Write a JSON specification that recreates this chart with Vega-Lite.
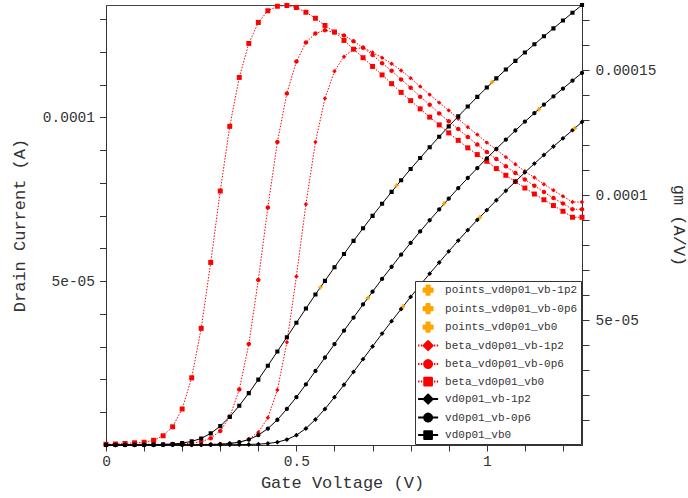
{
"$schema": "https://vega.github.io/schema/vega-lite/v6.json",
"width": 476, "height": 440,
"autosize": {"type": "none"},
"padding": {"left": 106, "top": 5, "right": 106, "bottom": 53},
"background": "white",
"config": {
 "font": "Liberation Mono",
 "view": {"stroke": "#444", "strokeWidth": 1},
 "point": {"strokeJoin": "round"},
 "axis": {"labelFont": "Liberation Mono", "labelFontSize": 14.5, "labelColor": "#333", "titleFont": "Liberation Mono", "titleFontSize": 17, "titleFontWeight": "normal", "titleColor": "#333", "tickColor": "#333", "domainColor": "#333", "grid": false, "labelOverlap": false, "labelFlush": false},
 "legend": {"orient": "bottom-right", "offset": 1, "padding": 3.6, "fillColor": "white", "strokeColor": "#333", "labelFont": "Liberation Mono", "labelFontSize": 11, "labelColor": "#333", "labelOffset": 11.5, "symbolOffset": 4, "rowPadding": 5.5, "symbolSize": 49, "symbolStrokeWidth": 2, "labelLimit": 300}
},
"datasets": {
 "id": [
  {"series":"vd0p01_vb0","vg":0,"value":0},
  {"series":"vd0p01_vb0","vg":0.025,"value":0.001e-5},
  {"series":"vd0p01_vb0","vg":0.05,"value":0.002e-5},
  {"series":"vd0p01_vb0","vg":0.075,"value":0.004e-5},
  {"series":"vd0p01_vb0","vg":0.1,"value":0.007e-5},
  {"series":"vd0p01_vb0","vg":0.125,"value":0.010e-5},
  {"series":"vd0p01_vb0","vg":0.15,"value":0.017e-5},
  {"series":"vd0p01_vb0","vg":0.175,"value":0.031e-5},
  {"series":"vd0p01_vb0","vg":0.2,"value":0.058e-5},
  {"series":"vd0p01_vb0","vg":0.225,"value":0.110e-5},
  {"series":"vd0p01_vb0","vg":0.25,"value":0.200e-5},
  {"series":"vd0p01_vb0","vg":0.275,"value":0.355e-5},
  {"series":"vd0p01_vb0","vg":0.3,"value":0.575e-5},
  {"series":"vd0p01_vb0","vg":0.325,"value":0.860e-5},
  {"series":"vd0p01_vb0","vg":0.35,"value":1.200e-5},
  {"series":"vd0p01_vb0","vg":0.375,"value":1.585e-5},
  {"series":"vd0p01_vb0","vg":0.4,"value":1.995e-5},
  {"series":"vd0p01_vb0","vg":0.425,"value":2.420e-5},
  {"series":"vd0p01_vb0","vg":0.45,"value":2.855e-5},
  {"series":"vd0p01_vb0","vg":0.475,"value":3.290e-5},
  {"series":"vd0p01_vb0","vg":0.5,"value":3.730e-5},
  {"series":"vd0p01_vb0","vg":0.525,"value":4.165e-5},
  {"series":"vd0p01_vb0","vg":0.55,"value":4.595e-5},
  {"series":"vd0p01_vb0","vg":0.575,"value":5.010e-5},
  {"series":"vd0p01_vb0","vg":0.6,"value":5.425e-5},
  {"series":"vd0p01_vb0","vg":0.625,"value":5.830e-5},
  {"series":"vd0p01_vb0","vg":0.65,"value":6.230e-5},
  {"series":"vd0p01_vb0","vg":0.675,"value":6.615e-5},
  {"series":"vd0p01_vb0","vg":0.7,"value":6.995e-5},
  {"series":"vd0p01_vb0","vg":0.725,"value":7.365e-5},
  {"series":"vd0p01_vb0","vg":0.75,"value":7.725e-5},
  {"series":"vd0p01_vb0","vg":0.775,"value":8.080e-5},
  {"series":"vd0p01_vb0","vg":0.8,"value":8.425e-5},
  {"series":"vd0p01_vb0","vg":0.825,"value":8.760e-5},
  {"series":"vd0p01_vb0","vg":0.85,"value":9.090e-5},
  {"series":"vd0p01_vb0","vg":0.875,"value":9.410e-5},
  {"series":"vd0p01_vb0","vg":0.9,"value":9.725e-5},
  {"series":"vd0p01_vb0","vg":0.925,"value":10.030e-5},
  {"series":"vd0p01_vb0","vg":0.95,"value":10.330e-5},
  {"series":"vd0p01_vb0","vg":0.975,"value":10.625e-5},
  {"series":"vd0p01_vb0","vg":1,"value":10.910e-5},
  {"series":"vd0p01_vb0","vg":1.025,"value":11.190e-5},
  {"series":"vd0p01_vb0","vg":1.05,"value":11.460e-5},
  {"series":"vd0p01_vb0","vg":1.075,"value":11.725e-5},
  {"series":"vd0p01_vb0","vg":1.1,"value":11.980e-5},
  {"series":"vd0p01_vb0","vg":1.125,"value":12.230e-5},
  {"series":"vd0p01_vb0","vg":1.15,"value":12.475e-5},
  {"series":"vd0p01_vb0","vg":1.175,"value":12.715e-5},
  {"series":"vd0p01_vb0","vg":1.2,"value":12.955e-5},
  {"series":"vd0p01_vb0","vg":1.225,"value":13.195e-5},
  {"series":"vd0p01_vb0","vg":1.25,"value":13.430e-5},
  {"series":"vd0p01_vb-0p6","vg":0,"value":0},
  {"series":"vd0p01_vb-0p6","vg":0.025,"value":0},
  {"series":"vd0p01_vb-0p6","vg":0.05,"value":0.001e-5},
  {"series":"vd0p01_vb-0p6","vg":0.075,"value":0.001e-5},
  {"series":"vd0p01_vb-0p6","vg":0.1,"value":0.002e-5},
  {"series":"vd0p01_vb-0p6","vg":0.125,"value":0.002e-5},
  {"series":"vd0p01_vb-0p6","vg":0.15,"value":0.003e-5},
  {"series":"vd0p01_vb-0p6","vg":0.175,"value":0.004e-5},
  {"series":"vd0p01_vb-0p6","vg":0.2,"value":0.005e-5},
  {"series":"vd0p01_vb-0p6","vg":0.225,"value":0.007e-5},
  {"series":"vd0p01_vb-0p6","vg":0.25,"value":0.009e-5},
  {"series":"vd0p01_vb-0p6","vg":0.275,"value":0.014e-5},
  {"series":"vd0p01_vb-0p6","vg":0.3,"value":0.024e-5},
  {"series":"vd0p01_vb-0p6","vg":0.325,"value":0.045e-5},
  {"series":"vd0p01_vb-0p6","vg":0.35,"value":0.087e-5},
  {"series":"vd0p01_vb-0p6","vg":0.375,"value":0.165e-5},
  {"series":"vd0p01_vb-0p6","vg":0.4,"value":0.30e-5},
  {"series":"vd0p01_vb-0p6","vg":0.425,"value":0.50e-5},
  {"series":"vd0p01_vb-0p6","vg":0.45,"value":0.77e-5},
  {"series":"vd0p01_vb-0p6","vg":0.475,"value":1.10e-5},
  {"series":"vd0p01_vb-0p6","vg":0.5,"value":1.46e-5},
  {"series":"vd0p01_vb-0p6","vg":0.525,"value":1.85e-5},
  {"series":"vd0p01_vb-0p6","vg":0.55,"value":2.26e-5},
  {"series":"vd0p01_vb-0p6","vg":0.575,"value":2.67e-5},
  {"series":"vd0p01_vb-0p6","vg":0.6,"value":3.08e-5},
  {"series":"vd0p01_vb-0p6","vg":0.625,"value":3.49e-5},
  {"series":"vd0p01_vb-0p6","vg":0.65,"value":3.89e-5},
  {"series":"vd0p01_vb-0p6","vg":0.675,"value":4.29e-5},
  {"series":"vd0p01_vb-0p6","vg":0.7,"value":4.68e-5},
  {"series":"vd0p01_vb-0p6","vg":0.725,"value":5.07e-5},
  {"series":"vd0p01_vb-0p6","vg":0.75,"value":5.44e-5},
  {"series":"vd0p01_vb-0p6","vg":0.775,"value":5.81e-5},
  {"series":"vd0p01_vb-0p6","vg":0.8,"value":6.17e-5},
  {"series":"vd0p01_vb-0p6","vg":0.825,"value":6.52e-5},
  {"series":"vd0p01_vb-0p6","vg":0.85,"value":6.86e-5},
  {"series":"vd0p01_vb-0p6","vg":0.875,"value":7.19e-5},
  {"series":"vd0p01_vb-0p6","vg":0.9,"value":7.52e-5},
  {"series":"vd0p01_vb-0p6","vg":0.925,"value":7.84e-5},
  {"series":"vd0p01_vb-0p6","vg":0.95,"value":8.15e-5},
  {"series":"vd0p01_vb-0p6","vg":0.975,"value":8.45e-5},
  {"series":"vd0p01_vb-0p6","vg":1,"value":8.75e-5},
  {"series":"vd0p01_vb-0p6","vg":1.025,"value":9.04e-5},
  {"series":"vd0p01_vb-0p6","vg":1.05,"value":9.32e-5},
  {"series":"vd0p01_vb-0p6","vg":1.075,"value":9.60e-5},
  {"series":"vd0p01_vb-0p6","vg":1.1,"value":9.87e-5},
  {"series":"vd0p01_vb-0p6","vg":1.125,"value":10.13e-5},
  {"series":"vd0p01_vb-0p6","vg":1.15,"value":10.39e-5},
  {"series":"vd0p01_vb-0p6","vg":1.175,"value":10.64e-5},
  {"series":"vd0p01_vb-0p6","vg":1.2,"value":10.88e-5},
  {"series":"vd0p01_vb-0p6","vg":1.225,"value":11.12e-5},
  {"series":"vd0p01_vb-0p6","vg":1.25,"value":11.36e-5},
  {"series":"vd0p01_vb-1p2","vg":0,"value":0},
  {"series":"vd0p01_vb-1p2","vg":0.025,"value":0},
  {"series":"vd0p01_vb-1p2","vg":0.05,"value":0},
  {"series":"vd0p01_vb-1p2","vg":0.075,"value":0.001e-5},
  {"series":"vd0p01_vb-1p2","vg":0.1,"value":0.001e-5},
  {"series":"vd0p01_vb-1p2","vg":0.125,"value":0.001e-5},
  {"series":"vd0p01_vb-1p2","vg":0.15,"value":0.002e-5},
  {"series":"vd0p01_vb-1p2","vg":0.175,"value":0.002e-5},
  {"series":"vd0p01_vb-1p2","vg":0.2,"value":0.003e-5},
  {"series":"vd0p01_vb-1p2","vg":0.225,"value":0.003e-5},
  {"series":"vd0p01_vb-1p2","vg":0.25,"value":0.004e-5},
  {"series":"vd0p01_vb-1p2","vg":0.275,"value":0.005e-5},
  {"series":"vd0p01_vb-1p2","vg":0.3,"value":0.006e-5},
  {"series":"vd0p01_vb-1p2","vg":0.325,"value":0.008e-5},
  {"series":"vd0p01_vb-1p2","vg":0.35,"value":0.011e-5},
  {"series":"vd0p01_vb-1p2","vg":0.375,"value":0.016e-5},
  {"series":"vd0p01_vb-1p2","vg":0.4,"value":0.026e-5},
  {"series":"vd0p01_vb-1p2","vg":0.425,"value":0.046e-5},
  {"series":"vd0p01_vb-1p2","vg":0.45,"value":0.087e-5},
  {"series":"vd0p01_vb-1p2","vg":0.475,"value":0.166e-5},
  {"series":"vd0p01_vb-1p2","vg":0.5,"value":0.30e-5},
  {"series":"vd0p01_vb-1p2","vg":0.525,"value":0.505e-5},
  {"series":"vd0p01_vb-1p2","vg":0.55,"value":0.78e-5},
  {"series":"vd0p01_vb-1p2","vg":0.575,"value":1.10e-5},
  {"series":"vd0p01_vb-1p2","vg":0.6,"value":1.46e-5},
  {"series":"vd0p01_vb-1p2","vg":0.625,"value":1.84e-5},
  {"series":"vd0p01_vb-1p2","vg":0.65,"value":2.23e-5},
  {"series":"vd0p01_vb-1p2","vg":0.675,"value":2.62e-5},
  {"series":"vd0p01_vb-1p2","vg":0.7,"value":3.01e-5},
  {"series":"vd0p01_vb-1p2","vg":0.725,"value":3.40e-5},
  {"series":"vd0p01_vb-1p2","vg":0.75,"value":3.78e-5},
  {"series":"vd0p01_vb-1p2","vg":0.775,"value":4.15e-5},
  {"series":"vd0p01_vb-1p2","vg":0.8,"value":4.52e-5},
  {"series":"vd0p01_vb-1p2","vg":0.825,"value":4.88e-5},
  {"series":"vd0p01_vb-1p2","vg":0.85,"value":5.23e-5},
  {"series":"vd0p01_vb-1p2","vg":0.875,"value":5.57e-5},
  {"series":"vd0p01_vb-1p2","vg":0.9,"value":5.91e-5},
  {"series":"vd0p01_vb-1p2","vg":0.925,"value":6.24e-5},
  {"series":"vd0p01_vb-1p2","vg":0.95,"value":6.56e-5},
  {"series":"vd0p01_vb-1p2","vg":0.975,"value":6.87e-5},
  {"series":"vd0p01_vb-1p2","vg":1,"value":7.17e-5},
  {"series":"vd0p01_vb-1p2","vg":1.025,"value":7.47e-5},
  {"series":"vd0p01_vb-1p2","vg":1.05,"value":7.76e-5},
  {"series":"vd0p01_vb-1p2","vg":1.075,"value":8.04e-5},
  {"series":"vd0p01_vb-1p2","vg":1.1,"value":8.32e-5},
  {"series":"vd0p01_vb-1p2","vg":1.125,"value":8.59e-5},
  {"series":"vd0p01_vb-1p2","vg":1.15,"value":8.85e-5},
  {"series":"vd0p01_vb-1p2","vg":1.175,"value":9.11e-5},
  {"series":"vd0p01_vb-1p2","vg":1.2,"value":9.36e-5},
  {"series":"vd0p01_vb-1p2","vg":1.225,"value":9.61e-5},
  {"series":"vd0p01_vb-1p2","vg":1.25,"value":9.86e-5}
 ],
 "pts": [
  {"series":"points_vd0p01_vb0","vg":0.563,"value":4.81e-5},
  {"series":"points_vd0p01_vb0","vg":0.763,"value":7.92e-5},
  {"series":"points_vd0p01_vb0","vg":1.014,"value":11.08e-5},
  {"series":"points_vd0p01_vb-0p6","vg":0.688,"value":4.49e-5},
  {"series":"points_vd0p01_vb-0p6","vg":0.888,"value":7.37e-5},
  {"series":"points_vd0p01_vb-0p6","vg":1.137,"value":10.25e-5},
  {"series":"points_vd0p01_vb-1p2","vg":0.780,"value":4.23e-5},
  {"series":"points_vd0p01_vb-1p2","vg":0.982,"value":6.95e-5},
  {"series":"points_vd0p01_vb-1p2","vg":1.231,"value":9.67e-5}
 ],
 "gm": [
  {"series":"beta_vd0p01_vb0","vg":0,"value":0.003e-4},
  {"series":"beta_vd0p01_vb0","vg":0.025,"value":0.004e-4},
  {"series":"beta_vd0p01_vb0","vg":0.05,"value":0.006e-4},
  {"series":"beta_vd0p01_vb0","vg":0.075,"value":0.009e-4},
  {"series":"beta_vd0p01_vb0","vg":0.1,"value":0.011e-4},
  {"series":"beta_vd0p01_vb0","vg":0.125,"value":0.019e-4},
  {"series":"beta_vd0p01_vb0","vg":0.15,"value":0.037e-4},
  {"series":"beta_vd0p01_vb0","vg":0.175,"value":0.073e-4},
  {"series":"beta_vd0p01_vb0","vg":0.2,"value":0.144e-4},
  {"series":"beta_vd0p01_vb0","vg":0.225,"value":0.269e-4},
  {"series":"beta_vd0p01_vb0","vg":0.25,"value":0.467e-4},
  {"series":"beta_vd0p01_vb0","vg":0.275,"value":0.731e-4},
  {"series":"beta_vd0p01_vb0","vg":0.3,"value":1.017e-4},
  {"series":"beta_vd0p01_vb0","vg":0.325,"value":1.276e-4},
  {"series":"beta_vd0p01_vb0","vg":0.35,"value":1.472e-4},
  {"series":"beta_vd0p01_vb0","vg":0.375,"value":1.608e-4},
  {"series":"beta_vd0p01_vb0","vg":0.4,"value":1.692e-4},
  {"series":"beta_vd0p01_vb0","vg":0.425,"value":1.739e-4},
  {"series":"beta_vd0p01_vb0","vg":0.45,"value":1.757e-4},
  {"series":"beta_vd0p01_vb0","vg":0.475,"value":1.760e-4},
  {"series":"beta_vd0p01_vb0","vg":0.5,"value":1.752e-4},
  {"series":"beta_vd0p01_vb0","vg":0.525,"value":1.733e-4},
  {"series":"beta_vd0p01_vb0","vg":0.55,"value":1.709e-4},
  {"series":"beta_vd0p01_vb0","vg":0.575,"value":1.680e-4},
  {"series":"beta_vd0p01_vb0","vg":0.6,"value":1.654e-4},
  {"series":"beta_vd0p01_vb0","vg":0.625,"value":1.620e-4},
  {"series":"beta_vd0p01_vb0","vg":0.65,"value":1.585e-4},
  {"series":"beta_vd0p01_vb0","vg":0.675,"value":1.551e-4},
  {"series":"beta_vd0p01_vb0","vg":0.7,"value":1.516e-4},
  {"series":"beta_vd0p01_vb0","vg":0.725,"value":1.482e-4},
  {"series":"beta_vd0p01_vb0","vg":0.75,"value":1.447e-4},
  {"series":"beta_vd0p01_vb0","vg":0.775,"value":1.412e-4},
  {"series":"beta_vd0p01_vb0","vg":0.8,"value":1.379e-4},
  {"series":"beta_vd0p01_vb0","vg":0.825,"value":1.346e-4},
  {"series":"beta_vd0p01_vb0","vg":0.85,"value":1.313e-4},
  {"series":"beta_vd0p01_vb0","vg":0.875,"value":1.282e-4},
  {"series":"beta_vd0p01_vb0","vg":0.9,"value":1.250e-4},
  {"series":"beta_vd0p01_vb0","vg":0.925,"value":1.220e-4},
  {"series":"beta_vd0p01_vb0","vg":0.95,"value":1.190e-4},
  {"series":"beta_vd0p01_vb0","vg":0.975,"value":1.163e-4},
  {"series":"beta_vd0p01_vb0","vg":1,"value":1.136e-4},
  {"series":"beta_vd0p01_vb0","vg":1.025,"value":1.107e-4},
  {"series":"beta_vd0p01_vb0","vg":1.05,"value":1.080e-4},
  {"series":"beta_vd0p01_vb0","vg":1.075,"value":1.055e-4},
  {"series":"beta_vd0p01_vb0","vg":1.1,"value":1.029e-4},
  {"series":"beta_vd0p01_vb0","vg":1.125,"value":1.005e-4},
  {"series":"beta_vd0p01_vb0","vg":1.15,"value":0.982e-4},
  {"series":"beta_vd0p01_vb0","vg":1.175,"value":0.959e-4},
  {"series":"beta_vd0p01_vb0","vg":1.2,"value":0.936e-4},
  {"series":"beta_vd0p01_vb0","vg":1.225,"value":0.912e-4},
  {"series":"beta_vd0p01_vb0","vg":1.25,"value":0.912e-4},
  {"series":"beta_vd0p01_vb-0p6","vg":0,"value":0.002e-4},
  {"series":"beta_vd0p01_vb-0p6","vg":0.025,"value":0.002e-4},
  {"series":"beta_vd0p01_vb-0p6","vg":0.05,"value":0.002e-4},
  {"series":"beta_vd0p01_vb-0p6","vg":0.075,"value":0.002e-4},
  {"series":"beta_vd0p01_vb-0p6","vg":0.1,"value":0.003e-4},
  {"series":"beta_vd0p01_vb-0p6","vg":0.125,"value":0.003e-4},
  {"series":"beta_vd0p01_vb-0p6","vg":0.15,"value":0.003e-4},
  {"series":"beta_vd0p01_vb-0p6","vg":0.175,"value":0.004e-4},
  {"series":"beta_vd0p01_vb-0p6","vg":0.2,"value":0.005e-4},
  {"series":"beta_vd0p01_vb-0p6","vg":0.225,"value":0.007e-4},
  {"series":"beta_vd0p01_vb-0p6","vg":0.25,"value":0.013e-4},
  {"series":"beta_vd0p01_vb-0p6","vg":0.275,"value":0.027e-4},
  {"series":"beta_vd0p01_vb-0p6","vg":0.3,"value":0.056e-4},
  {"series":"beta_vd0p01_vb-0p6","vg":0.325,"value":0.113e-4},
  {"series":"beta_vd0p01_vb-0p6","vg":0.35,"value":0.222e-4},
  {"series":"beta_vd0p01_vb-0p6","vg":0.375,"value":0.404e-4},
  {"series":"beta_vd0p01_vb-0p6","vg":0.4,"value":0.661e-4},
  {"series":"beta_vd0p01_vb-0p6","vg":0.425,"value":0.951e-4},
  {"series":"beta_vd0p01_vb-0p6","vg":0.45,"value":1.213e-4},
  {"series":"beta_vd0p01_vb-0p6","vg":0.475,"value":1.408e-4},
  {"series":"beta_vd0p01_vb-0p6","vg":0.5,"value":1.536e-4},
  {"series":"beta_vd0p01_vb-0p6","vg":0.525,"value":1.612e-4},
  {"series":"beta_vd0p01_vb-0p6","vg":0.55,"value":1.648e-4},
  {"series":"beta_vd0p01_vb-0p6","vg":0.575,"value":1.661e-4},
  {"series":"beta_vd0p01_vb-0p6","vg":0.6,"value":1.652e-4},
  {"series":"beta_vd0p01_vb-0p6","vg":0.625,"value":1.640e-4},
  {"series":"beta_vd0p01_vb-0p6","vg":0.65,"value":1.617e-4},
  {"series":"beta_vd0p01_vb-0p6","vg":0.675,"value":1.591e-4},
  {"series":"beta_vd0p01_vb-0p6","vg":0.7,"value":1.562e-4},
  {"series":"beta_vd0p01_vb-0p6","vg":0.725,"value":1.529e-4},
  {"series":"beta_vd0p01_vb-0p6","vg":0.75,"value":1.499e-4},
  {"series":"beta_vd0p01_vb-0p6","vg":0.775,"value":1.464e-4},
  {"series":"beta_vd0p01_vb-0p6","vg":0.8,"value":1.431e-4},
  {"series":"beta_vd0p01_vb-0p6","vg":0.825,"value":1.395e-4},
  {"series":"beta_vd0p01_vb-0p6","vg":0.85,"value":1.363e-4},
  {"series":"beta_vd0p01_vb-0p6","vg":0.875,"value":1.328e-4},
  {"series":"beta_vd0p01_vb-0p6","vg":0.9,"value":1.296e-4},
  {"series":"beta_vd0p01_vb-0p6","vg":0.925,"value":1.265e-4},
  {"series":"beta_vd0p01_vb-0p6","vg":0.95,"value":1.233e-4},
  {"series":"beta_vd0p01_vb-0p6","vg":0.975,"value":1.203e-4},
  {"series":"beta_vd0p01_vb-0p6","vg":1,"value":1.173e-4},
  {"series":"beta_vd0p01_vb-0p6","vg":1.025,"value":1.145e-4},
  {"series":"beta_vd0p01_vb-0p6","vg":1.05,"value":1.116e-4},
  {"series":"beta_vd0p01_vb-0p6","vg":1.075,"value":1.089e-4},
  {"series":"beta_vd0p01_vb-0p6","vg":1.1,"value":1.063e-4},
  {"series":"beta_vd0p01_vb-0p6","vg":1.125,"value":1.038e-4},
  {"series":"beta_vd0p01_vb-0p6","vg":1.15,"value":1.013e-4},
  {"series":"beta_vd0p01_vb-0p6","vg":1.175,"value":0.989e-4},
  {"series":"beta_vd0p01_vb-0p6","vg":1.2,"value":0.967e-4},
  {"series":"beta_vd0p01_vb-0p6","vg":1.225,"value":0.944e-4},
  {"series":"beta_vd0p01_vb-0p6","vg":1.25,"value":0.944e-4},
  {"series":"beta_vd0p01_vb-1p2","vg":0,"value":0.001e-4},
  {"series":"beta_vd0p01_vb-1p2","vg":0.025,"value":0.001e-4},
  {"series":"beta_vd0p01_vb-1p2","vg":0.05,"value":0.001e-4},
  {"series":"beta_vd0p01_vb-1p2","vg":0.075,"value":0.001e-4},
  {"series":"beta_vd0p01_vb-1p2","vg":0.1,"value":0.001e-4},
  {"series":"beta_vd0p01_vb-1p2","vg":0.125,"value":0.001e-4},
  {"series":"beta_vd0p01_vb-1p2","vg":0.15,"value":0.002e-4},
  {"series":"beta_vd0p01_vb-1p2","vg":0.175,"value":0.002e-4},
  {"series":"beta_vd0p01_vb-1p2","vg":0.2,"value":0.002e-4},
  {"series":"beta_vd0p01_vb-1p2","vg":0.225,"value":0.002e-4},
  {"series":"beta_vd0p01_vb-1p2","vg":0.25,"value":0.002e-4},
  {"series":"beta_vd0p01_vb-1p2","vg":0.275,"value":0.003e-4},
  {"series":"beta_vd0p01_vb-1p2","vg":0.3,"value":0.004e-4},
  {"series":"beta_vd0p01_vb-1p2","vg":0.325,"value":0.006e-4},
  {"series":"beta_vd0p01_vb-1p2","vg":0.35,"value":0.011e-4},
  {"series":"beta_vd0p01_vb-1p2","vg":0.375,"value":0.024e-4},
  {"series":"beta_vd0p01_vb-1p2","vg":0.4,"value":0.051e-4},
  {"series":"beta_vd0p01_vb-1p2","vg":0.425,"value":0.109e-4},
  {"series":"beta_vd0p01_vb-1p2","vg":0.45,"value":0.220e-4},
  {"series":"beta_vd0p01_vb-1p2","vg":0.475,"value":0.411e-4},
  {"series":"beta_vd0p01_vb-1p2","vg":0.5,"value":0.675e-4},
  {"series":"beta_vd0p01_vb-1p2","vg":0.525,"value":0.964e-4},
  {"series":"beta_vd0p01_vb-1p2","vg":0.55,"value":1.213e-4},
  {"series":"beta_vd0p01_vb-1p2","vg":0.575,"value":1.388e-4},
  {"series":"beta_vd0p01_vb-1p2","vg":0.6,"value":1.497e-4},
  {"series":"beta_vd0p01_vb-1p2","vg":0.625,"value":1.555e-4},
  {"series":"beta_vd0p01_vb-1p2","vg":0.65,"value":1.585e-4},
  {"series":"beta_vd0p01_vb-1p2","vg":0.675,"value":1.592e-4},
  {"series":"beta_vd0p01_vb-1p2","vg":0.7,"value":1.572e-4},
  {"series":"beta_vd0p01_vb-1p2","vg":0.725,"value":1.551e-4},
  {"series":"beta_vd0p01_vb-1p2","vg":0.75,"value":1.527e-4},
  {"series":"beta_vd0p01_vb-1p2","vg":0.775,"value":1.500e-4},
  {"series":"beta_vd0p01_vb-1p2","vg":0.8,"value":1.469e-4},
  {"series":"beta_vd0p01_vb-1p2","vg":0.825,"value":1.436e-4},
  {"series":"beta_vd0p01_vb-1p2","vg":0.85,"value":1.403e-4},
  {"series":"beta_vd0p01_vb-1p2","vg":0.875,"value":1.371e-4},
  {"series":"beta_vd0p01_vb-1p2","vg":0.9,"value":1.340e-4},
  {"series":"beta_vd0p01_vb-1p2","vg":0.925,"value":1.306e-4},
  {"series":"beta_vd0p01_vb-1p2","vg":0.95,"value":1.273e-4},
  {"series":"beta_vd0p01_vb-1p2","vg":0.975,"value":1.243e-4},
  {"series":"beta_vd0p01_vb-1p2","vg":1,"value":1.211e-4},
  {"series":"beta_vd0p01_vb-1p2","vg":1.025,"value":1.183e-4},
  {"series":"beta_vd0p01_vb-1p2","vg":1.05,"value":1.153e-4},
  {"series":"beta_vd0p01_vb-1p2","vg":1.075,"value":1.124e-4},
  {"series":"beta_vd0p01_vb-1p2","vg":1.1,"value":1.096e-4},
  {"series":"beta_vd0p01_vb-1p2","vg":1.125,"value":1.071e-4},
  {"series":"beta_vd0p01_vb-1p2","vg":1.15,"value":1.044e-4},
  {"series":"beta_vd0p01_vb-1p2","vg":1.175,"value":1.020e-4},
  {"series":"beta_vd0p01_vb-1p2","vg":1.2,"value":0.996e-4},
  {"series":"beta_vd0p01_vb-1p2","vg":1.225,"value":0.973e-4},
  {"series":"beta_vd0p01_vb-1p2","vg":1.25,"value":0.973e-4}
 ]
},
"encoding": {
 "x": {"field": "vg", "type": "quantitative",
  "scale": {"domain": [0, 1.25], "nice": false, "zero": false},
  "axis": {"title": "Gate Voltage (V)", "values": [0, 0.1, 0.2, 0.3, 0.4, 0.5, 0.6, 0.7, 0.8, 0.9, 1, 1.1, 1.2],
   "labelExpr": "datum.value == 0 ? '0' : datum.value == 0.5 ? '0.5' : datum.value == 1 ? '1' : ''",
   "tickSize": 6, "labelPadding": 3, "titleX": 236, "titleY": 37, "titleBaseline": "middle", "titleAlign": "center"}}
},
"layer": [
 {
  "encoding": {"y": {"field": "value", "type": "quantitative",
   "scale": {"domain": [0, 0.0001762], "nice": false, "zero": false},
   "axis": {"orient": "right", "title": "gm (A/V)",
    "values": [1e-5, 2e-5, 3e-5, 4e-5, 5e-5, 6e-5, 7e-5, 8e-5, 9e-5, 1e-4, 1.1e-4, 1.2e-4, 1.3e-4, 1.4e-4, 1.5e-4, 1.6e-4, 1.7e-4],
    "labelExpr": "abs(datum.value-5e-5) < 1e-9 ? '5e-05' : abs(datum.value-1e-4) < 1e-9 ? '0.0001' : abs(datum.value-1.5e-4) < 1e-9 ? '0.00015' : ''",
    "tickSize": 7, "labelPadding": 6, "titleX": 96, "titleY": 220, "titleAngle": 90, "titleAlign": "center", "titleBaseline": "middle"}}},
  "layer": [
   {"data": {"name": "gm"},
    "mark": {"type": "line", "color": "#ff0000", "strokeWidth": 1, "strokeDash": [1.5, 1.5]},
    "encoding": {"detail": {"field": "series"}}},
   {"data": {"name": "gm"},
    "transform": [{"filter": {"field": "series", "equal": "beta_vd0p01_vb0"}}],
    "mark": {"type": "point", "filled": true, "opacity": 1, "strokeWidth": 0, "size": 190, "color": "#ff0000", "shape": "M-0.36,-0.36L0.36,-0.36L0.36,0.36L-0.36,0.36Z"}},
   {"data": {"name": "gm"},
    "transform": [{"filter": {"field": "series", "equal": "beta_vd0p01_vb-0p6"}}],
    "mark": {"type": "point", "filled": true, "opacity": 1, "strokeWidth": 0, "size": 140, "color": "#ff0000", "shape": "M-0.38,0A0.38,0.38,0,1,1,0.38,0A0.38,0.38,0,1,1,-0.38,0Z"}},
   {"data": {"name": "gm"},
    "transform": [{"filter": {"field": "series", "equal": "beta_vd0p01_vb-1p2"}}],
    "mark": {"type": "point", "filled": true, "opacity": 1, "strokeWidth": 0, "size": 110, "color": "#ff0000", "shape": "M0,-0.42L0.42,0L0,0.42L-0.42,0Z"}}
  ]
 },
 {
  "encoding": {"y": {"field": "value", "type": "quantitative",
   "scale": {"domain": [0, 0.0001343], "nice": false, "zero": false},
   "axis": {"orient": "left", "title": "Drain Current (A)",
    "values": [1e-5, 2e-5, 3e-5, 4e-5, 5e-5, 6e-5, 7e-5, 8e-5, 9e-5, 1e-4, 1.1e-4, 1.2e-4, 1.3e-4],
    "labelExpr": "abs(datum.value-5e-5) < 1e-9 ? '5e-05' : abs(datum.value-1e-4) < 1e-9 ? '0.0001' : ''",
    "tickSize": 6.5, "labelPadding": 5, "titleX": -87, "titleY": 220, "titleAngle": -90, "titleAlign": "center", "titleBaseline": "middle"}}},
  "layer": [
   {"data": {"name": "id"},
    "mark": {"type": "line", "color": "#000000", "strokeWidth": 1},
    "encoding": {"detail": {"field": "series"}}},
   {"data": {"name": "id"},
    "mark": {"type": "point", "filled": true, "opacity": 1, "size": 14, "strokeJoin": "round"},
    "encoding": {
     "strokeWidth": {"value": 0},
     "color": {"field": "series", "type": "nominal",
      "scale": {"domain": ["points_vd0p01_vb-1p2", "points_vd0p01_vb-0p6", "points_vd0p01_vb0", "beta_vd0p01_vb-1p2", "beta_vd0p01_vb-0p6", "beta_vd0p01_vb0", "vd0p01_vb-1p2", "vd0p01_vb-0p6", "vd0p01_vb0"],
       "range": ["#ffa500", "#ffa500", "#ffa500", "#ff0000", "#ff0000", "#ff0000", "#000000", "#000000", "#000000"]},
      "legend": {"title": null}},
     "stroke": {"field": "series", "type": "nominal",
      "scale": {"domain": ["points_vd0p01_vb-1p2", "points_vd0p01_vb-0p6", "points_vd0p01_vb0", "beta_vd0p01_vb-1p2", "beta_vd0p01_vb-0p6", "beta_vd0p01_vb0", "vd0p01_vb-1p2", "vd0p01_vb-0p6", "vd0p01_vb0"],
       "range": ["#ffa500", "#ffa500", "#ffa500", "#ff0000", "#ff0000", "#ff0000", "#000000", "#000000", "#000000"]},
      "legend": {"title": null}},
     "shape": {"field": "series", "type": "nominal",
      "scale": {"domain": ["points_vd0p01_vb-1p2", "points_vd0p01_vb-0p6", "points_vd0p01_vb0", "beta_vd0p01_vb-1p2", "beta_vd0p01_vb-0p6", "beta_vd0p01_vb0", "vd0p01_vb-1p2", "vd0p01_vb-0p6", "vd0p01_vb0"],
       "range": [
        "M-0.45,-1.3L0.45,-1.3L0.45,-0.45L1.3,-0.45L1.3,0.45L0.45,0.45L0.45,1.3L-0.45,1.3L-0.45,0.45L-1.3,0.45L-1.3,-0.45L-0.45,-0.45Z",
        "M-0.45,-1.3L0.45,-1.3L0.45,-0.45L1.3,-0.45L1.3,0.45L0.45,0.45L0.45,1.3L-0.45,1.3L-0.45,0.45L-1.3,0.45L-1.3,-0.45L-0.45,-0.45Z",
        "M-0.45,-1.3L0.45,-1.3L0.45,-0.45L1.3,-0.45L1.3,0.45L0.45,0.45L0.45,1.3L-0.45,1.3L-0.45,0.45L-1.3,0.45L-1.3,-0.45L-0.45,-0.45Z",
        "M-2.86,0L-2.46,0M-2.06,0L-1.66,0M1.66,0L2.06,0M2.46,0L2.86,0M0,-1.3L1.3,0L0,1.3L-1.3,0Z",
        "M-2.86,0L-2.46,0M-2.06,0L-1.66,0M1.66,0L2.06,0M2.46,0L2.86,0M1.15,0L1,0.575L0.575,1L0,1.15L-0.575,1L-1,0.575L-1.15,0L-1,-0.575L-0.575,-1L0,-1.15L0.575,-1L1,-0.575Z",
        "M-2.86,0L-2.46,0M-2.06,0L-1.66,0M1.66,0L2.06,0M2.46,0L2.86,0M-1.1,-1.1L1.1,-1.1L1.1,1.1L-1.1,1.1Z",
        "M-2.86,0L2.86,0M0,-1.3L1.3,0L0,1.3L-1.3,0Z",
        "M-2.86,0L2.86,0M1.15,0L1,0.575L0.575,1L0,1.15L-0.575,1L-1,0.575L-1.15,0L-1,-0.575L-0.575,-1L0,-1.15L0.575,-1L1,-0.575Z",
        "M-2.86,0L2.86,0M-1.1,-1.1L1.1,-1.1L1.1,1.1L-1.1,1.1Z"]},
      "legend": {"title": null}}
    }},
   {"data": {"name": "pts"},
    "mark": {"type": "point", "filled": true, "opacity": 1, "strokeWidth": 0, "size": 110, "color": "#ffa500", "shape": "M-0.15,-0.42L0.15,-0.42L0.15,-0.15L0.42,-0.15L0.42,0.15L0.15,0.15L0.15,0.42L-0.15,0.42L-0.15,0.15L-0.42,0.15L-0.42,-0.15L-0.15,-0.15Z"}}
  ]
 }
],
"resolve": {"scale": {"y": "independent"}}
}
